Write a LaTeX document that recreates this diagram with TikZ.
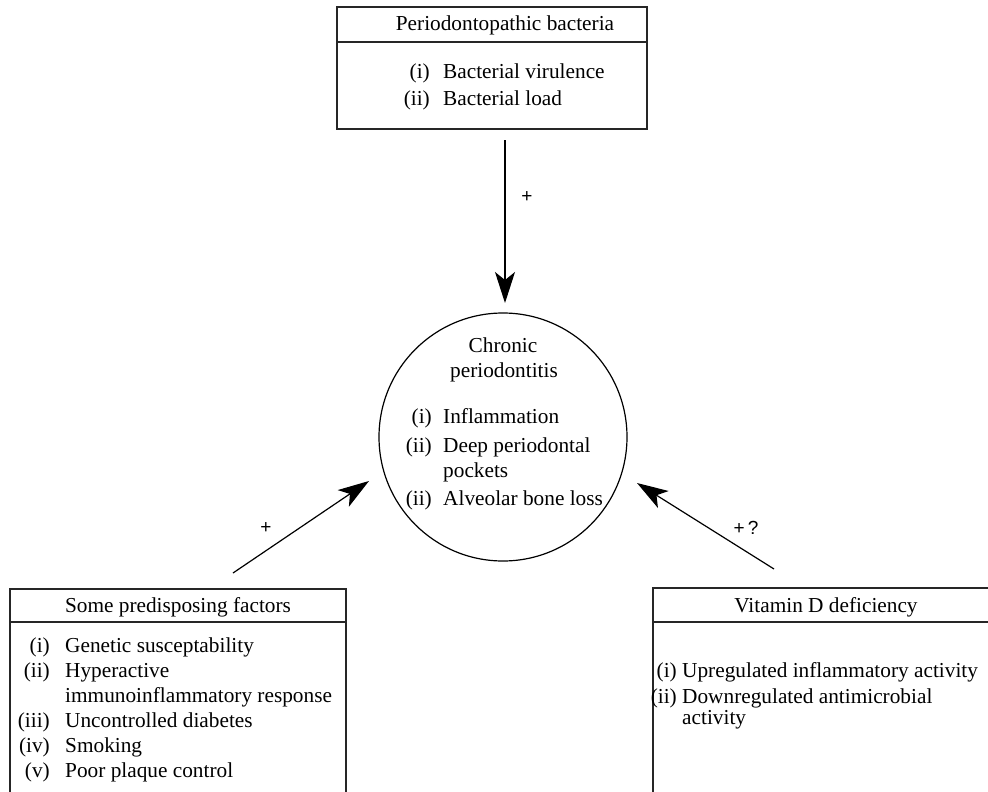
\documentclass[tikz,border=0pt]{standalone}
\usepackage{fontspec}
\setmainfont{Liberation Serif}
\newfontfamily\signfont{Liberation Sans}
\usetikzlibrary{arrows.meta}
\begin{document}
\begin{tikzpicture}[x=1pt,y=-1pt,
  every node/.style={font=\fontsize{21.3}{25}\selectfont, inner sep=0pt},
  box/.style={draw=black!85, line width=1.2pt, rectangle},
  rule/.style={draw=black!85, line width=1.2pt},
  lab/.style={anchor=base east},
  txt/.style={anchor=base west},
  ttl/.style={anchor=base},
  sign/.style={font=\signfont\fontsize{19}{22}\selectfont},
  arr/.style={line width=1.2pt, -{Stealth[length=31pt,width=20pt,inset=8pt]}},
]
\useasboundingbox (0,0) rectangle (988,792);
\clip (0,0) rectangle (988,792);

% boxes
\node[box, minimum width=310pt, minimum height=122pt] (topbox) at (492,68) {};
\draw[rule] (topbox.west |- 0,42) -- (topbox.east |- 0,42);
\node[box, minimum width=336pt, minimum height=241pt] (leftbox) at (178,709.5) {};
\draw[rule] (leftbox.west |- 0,622) -- (leftbox.east |- 0,622);
\node[box, minimum width=347pt, minimum height=242pt] (rightbox) at (826.5,709) {};
\draw[rule] (rightbox.west |- 0,622) -- (rightbox.east |- 0,622);

% circle
\node[draw=black, line width=1.2pt, circle, minimum size=248pt] (circ) at (503,437) {};

% top box text
\node[ttl] (ttop) at (505,31) {Periodontopathic bacteria};
\node[lab] (tl1) at (430,78) {(i)};
\node[txt] (tt1) at (443,78) {Bacterial virulence};
\node[lab] (tl2) at (430,106) {(ii)};
\node[txt] (tt2) at (443,106) {Bacterial load};

% circle text
\node[ttl] (c1) at (503,352) {Chronic};
\node[ttl] (c2) at (504,377) {periodontitis};
\node[lab] (cl1) at (432,423) {(i)};
\node[txt] (ct1) at (443,423) {Inflammation};
\node[lab] (cl2) at (432,452) {(ii)};
\node[txt] (ct2) at (443,452) {Deep periodontal};
\node[txt] (ct2b) at (443,477) {pockets};
\node[lab] (cl3) at (432,505) {(ii)};
\node[txt] (ct3) at (443,505) {Alveolar bone loss};

% left box text
\node[ttl] (tleft) at (178,612) {Some predisposing factors};
\node[lab] (ll1) at (50,652) {(i)};
\node[txt] (lt1) at (65,652) {Genetic susceptability};
\node[lab] (ll2) at (50,677) {(ii)};
\node[txt] (lt2) at (65,677) {Hyperactive};
\node[txt] (lt2b) at (65,702) {immunoinflammatory response};
\node[lab] (ll3) at (50,727) {(iii)};
\node[txt] (lt3) at (65,727) {Uncontrolled diabetes};
\node[lab] (ll4) at (50,752) {(iv)};
\node[txt] (lt4) at (65,752) {Smoking};
\node[lab] (ll5) at (50,777) {(v)};
\node[txt] (lt5) at (65,777) {Poor plaque control};

% right box text
\node[ttl] (tright) at (826,612) {Vitamin D deficiency};
\node[lab] (rl1) at (677,677) {(i)};
\node[txt] (rt1) at (682,677) {Upregulated inflammatory activity};
\node[lab] (rl2) at (677,703) {(ii)};
\node[txt] (rt2) at (682,703) {Downregulated antimicrobial};
\node[txt] (rt2b) at (682,724) {activity};

% arrows
\coordinate (a1s) at (505,140);
\coordinate (a1e) at (505,303);
\coordinate (a2s) at (233,573);
\coordinate (a2e) at (369,481);
\coordinate (a3s) at (774,569);
\coordinate (a3e) at (637,483);
\draw[arr] (a1s) -- (a1e);
\draw[arr] (a2s) -- (a2e);
\draw[arr] (a3s) -- (a3e);

\node[sign] (s1) at (527,197) {+};
\node[sign] (s2) at (266,528) {+};
\node[sign] (s3) at (746,528) {+\,?};
\end{tikzpicture}
\end{document}
